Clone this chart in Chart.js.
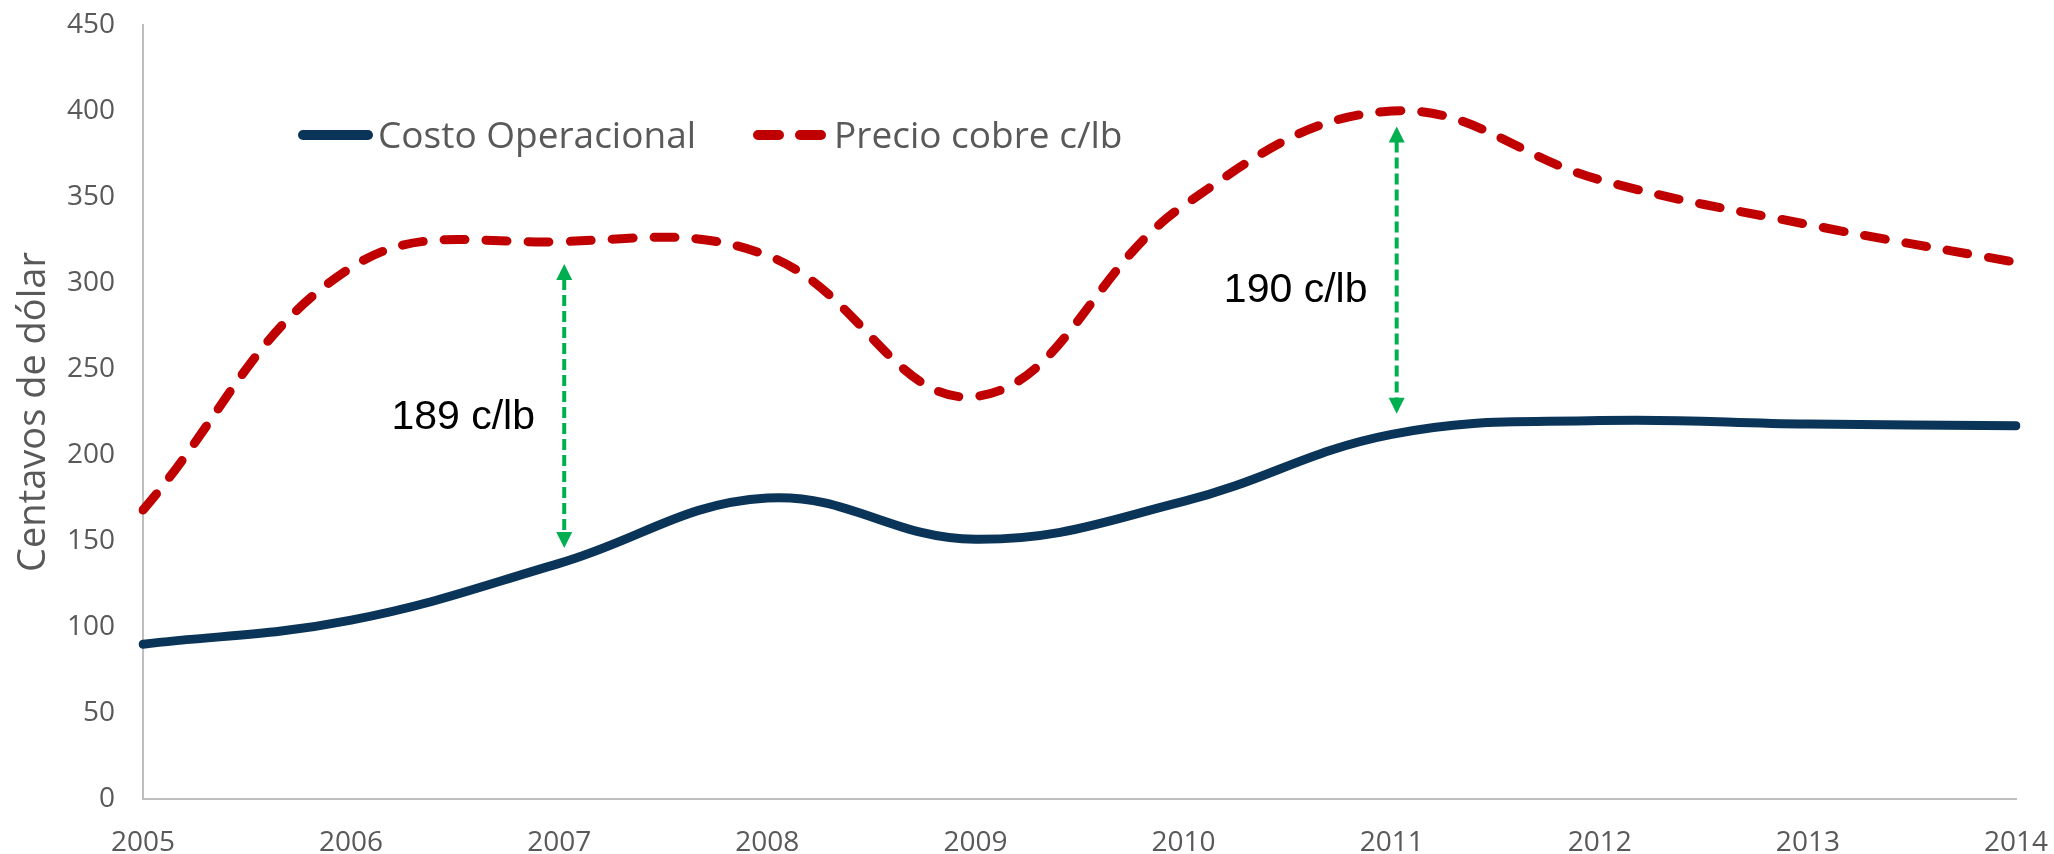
<!DOCTYPE html>
<html>
<head>
<meta charset="utf-8">
<script src="https://cdn.jsdelivr.net/npm/chart.js@4.4.1/dist/chart.umd.min.js"></script>
<style>
  html,body{margin:0;padding:0;background:#fff}
  #wrap{width:2054px;height:854px;position:relative}
</style>
</head>
<body>
<div id="wrap"><canvas id="costChart"></canvas></div>
<script>
// datos (centavos de dolar por libra)
const years            = ["2005","2006","2007","2008","2009","2010","2011","2012","2013","2014"];
const costoOperacional = [90, 104, 137, 175, 151, 173, 212, 220, 218, 217];
const precioCobre      = [168, 309, 324, 316, 234, 345, 400, 360, 334, 312];
const yMax = 450, yStep = 50;

// flechas de diferencia
const gapYears  = ["2007", "2011"];
const gapLow    = [146, 224];
const gapHigh   = [311, 391];
const gapText   = ["189 c/lb", "190 c/lb"];
const gapTextAt = [215, 289];

const GRAY = "#595959", NAVY = "#0b3558", RED = "#c00000", GREEN = "#00b050";

function drawArrowHead(ctx, x, y, dir) {
  ctx.beginPath();
  ctx.moveTo(x, y);
  ctx.lineTo(x - 8, y + dir*16);
  ctx.lineTo(x + 8, y + dir*16);
  ctx.closePath();
  ctx.fill();
}

const overlay = {
  id: "overlay",
  afterDatasetsDraw(chart) {
    const {ctx, scales:{x, y}} = chart;
    ctx.save();
    // flechas + textos
    gapYears.forEach((yr, i) => {
      const px = x.getPixelForValue(years.indexOf(yr)) + 5;
      const top = y.getPixelForValue(gapHigh[i]);
      const bot = y.getPixelForValue(gapLow[i]);
      ctx.strokeStyle = GREEN; ctx.fillStyle = GREEN;
      ctx.lineWidth = 4; ctx.lineCap = "butt";
      ctx.setLineDash([11, 5]);
      ctx.beginPath(); ctx.moveTo(px, top + 15); ctx.lineTo(px, bot - 15); ctx.stroke();
      ctx.setLineDash([]);
      drawArrowHead(ctx, px, top, 1);
      drawArrowHead(ctx, px, bot, -1);
      ctx.fillStyle = "#000";
      ctx.font = "41px 'Liberation Sans', Arial, sans-serif";
      ctx.textAlign = "center"; ctx.textBaseline = "alphabetic";
      ctx.fillText(gapText[i], px - 101, y.getPixelForValue(gapTextAt[i]));
    });
    // leyenda
    const ly = 135;
    ctx.lineWidth = 10; ctx.lineCap = "round";
    ctx.strokeStyle = NAVY; ctx.setLineDash([]);
    ctx.beginPath(); ctx.moveTo(303, ly); ctx.lineTo(368, ly); ctx.stroke();
    ctx.strokeStyle = RED; ctx.setLineDash([21, 21]);
    ctx.beginPath(); ctx.moveTo(758, ly); ctx.lineTo(821, ly); ctx.stroke();
    ctx.setLineDash([]);
    ctx.fillStyle = GRAY;
    ctx.font = "37px 'Open Sans', sans-serif";
    ctx.textAlign = "left"; ctx.textBaseline = "alphabetic";
    ctx.fillText(chart.data.datasets[0].label, 378, 148);
    ctx.fillText(chart.data.datasets[1].label, 834, 148);
    ctx.restore();
  }
};

Chart.defaults.font.family = "'Open Sans', sans-serif";
Chart.defaults.color = GRAY;

new Chart(document.getElementById("costChart"), {
  type: "line",
  data: {
    labels: years,
    datasets: [
      {label: "Costo Operacional", data: costoOperacional, borderColor: NAVY, borderWidth: 9,
       borderCapStyle: "round", tension: 0.4, pointRadius: 0, fill: false},
      {label: "Precio cobre c/lb", data: precioCobre, borderColor: RED, borderWidth: 9,
       borderDash: [21, 21], borderCapStyle: "round", tension: 0.4, pointRadius: 0, fill: false}
    ]
  },
  options: {
    responsive: true, maintainAspectRatio: false, animation: false,
    layout: {padding: {top: 25, right: 38, left: 0, bottom: 0}},
    plugins: {legend: {display: false}, tooltip: {enabled: false}},
    scales: {
      x: {
        offset: false,
        grid: {display: false, drawTicks: false},
        border: {display: true, color: "#bfbfbf", width: 2},
        ticks: {font: {size: 28}, color: GRAY, padding: 27, maxRotation: 0, autoSkip: false},
        afterFit: s => { s.height = 55; s.paddingLeft = 0; s.paddingRight = 0; }
      },
      y: {
        min: 0, max: yMax,
        grid: {display: false, drawTicks: false},
        border: {display: true, color: "#bfbfbf", width: 2},
        ticks: {stepSize: yStep, font: {size: 28}, color: GRAY, padding: 28},
        title: {display: true, text: "Centavos de dólar", font: {size: 38}, color: GRAY, padding: {top: 11, bottom: 0}},
        afterFit: s => { s.width = 143; s.paddingTop = 0; s.paddingBottom = 0; }
      }
    }
  },
  plugins: [overlay]
});
</script>
</body>
</html>
